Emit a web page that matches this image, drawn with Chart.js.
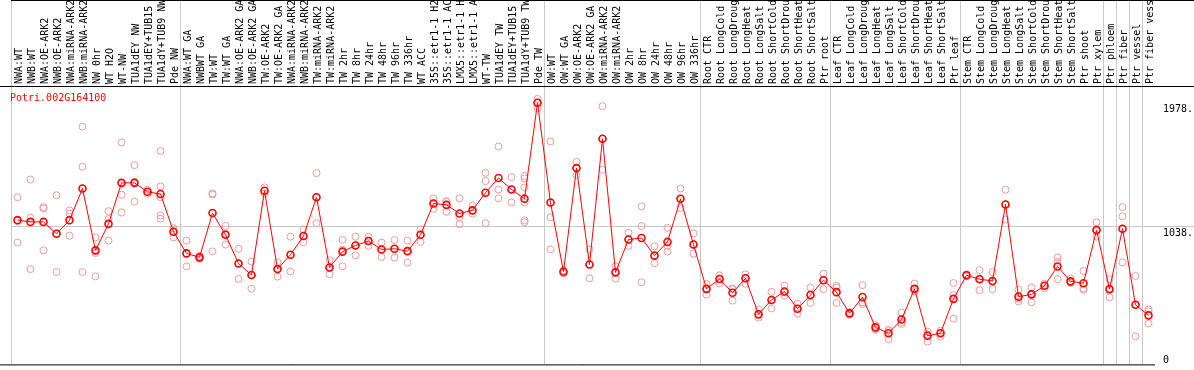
<!DOCTYPE html>
<html>
<head>
<meta charset="utf-8">
<script src="https://cdn.jsdelivr.net/npm/chart.js@4.4.1/dist/chart.umd.min.js"></script>
<style>
html, body { margin: 0; padding: 0; background: #fff; }
#caja { width: 1194px; height: 370px; }
</style>
</head>
<body>
<div id="caja"><canvas id="grafica" width="1194" height="370"></canvas></div>
<script>
var titulo = "Potri.002G164100";

var categorias = [
	"NWA:WT", "NWB:WT", "NWA:OE-ARK2", "NWB:OE-ARK2", "NWA:miRNA-ARK2", "NWB:miRNA-ARK2", "NW 0hr", "WT H2O", "WT-NW",
	"TUA1dEY NW", "TUA1dEY+TUB15 NW", "TUA1dY+TUB9 NW", "Pde NW",
	"NWA:WT GA", "NWBWT GA", "TW:WT", "TW:WT GA", "NWA:OE-ARK2 GA", "NWB:OE-ARK2 GA", "TW:OE-ARK2", "TW:OE-ARK2 GA",
	"NWA:miRNA-ARK2", "NWB:miRNA-ARK2", "TW:miRNA-ARK2", "TW:miRNA-ARK2", "TW 2hr", "TW 8hr", "TW 24hr", "TW 48hr",
	"TW 96hr", "TW 336hr", "WT ACC", "35S::etr1-1 H2O", "35S::etr1-1 ACC", "LMX5::etr1-1 H2O", "LMX5::etr1-1 ACC",
	"WT-TW", "TUA1dEY TW", "TUA1dEY+TUB15 TW", "TUA1dY+TUB9 TW", "Pde TW",
	"OW:WT", "OW:WT GA", "OW:OE-ARK2", "OW:OE-ARK2 GA", "OW:miRNA-ARK2", "OW:miRNA-ARK2", "OW 2hr", "OW 8hr",
	"OW 24hr", "OW 48hr", "OW 96hr", "OW 336hr",
	"Root CTR", "Root LongCold", "Root LongDrought", "Root LongHeat", "Root LongSalt", "Root ShortCold",
	"Root ShortDrought", "Root ShortHeat", "Root ShortSalt", "Ptr root",
	"Leaf CTR", "Leaf LongCold", "Leaf LongDrought", "Leaf LongHeat", "Leaf LongSalt", "Leaf ShortCold",
	"Leaf ShortDrought", "Leaf ShortHeat", "Leaf ShortSalt", "Ptr leaf",
	"Stem CTR", "Stem LongCold", "Stem LongDrought", "Stem LongHeat", "Stem LongSalt", "Stem ShortCold",
	"Stem ShortDrought", "Stem ShortHeat", "Stem ShortSalt", "Ptr shoot", "Ptr xylem",
	"Ptr phloem", "Ptr fiber", "Ptr vessel", "Ptr fiber vessel"
];

// media de cada muestra
var medias = [
	1088, 1075, 1075, 985, 1088, 1328, 859, 1060, 1371, 1371, 1303, 1286, 1000,
	836, 806, 1142, 977, 759, 672, 1311, 717, 826, 968, 1262, 729, 849, 896, 930, 866,
	871, 853, 977, 1214, 1204, 1139, 1162, 1296, 1408, 1321, 1251, 1978,
	1222, 697, 1483, 752, 1706, 692, 941, 953, 819, 923, 1250, 903,
	567, 642, 538, 647, 374, 483, 547, 416, 520, 632,
	542, 381, 505, 275, 230, 334, 567, 211, 230, 491,
	670, 640, 627, 1207, 508, 525, 590, 737, 624, 610, 1013,
	565, 1023, 446, 366
];

// replicas de cada muestra
var replicas = [
	[1262, 1083, 918], [1396, 1107, 717], [1187, 1177, 859], [1277, 985, 695], [1162, 1137, 970],
	[1797, 1493, 695], [957, 839, 662], [1156, 1097, 933], [1677, 1281, 1146], [1505, 1378, 1229],
	[1320, 1303, 1288], [1612, 1344, 1262, 1124, 1099], [1027, 1000, 957],
	[933, 836, 737], [818, 806, 794], [1291, 1283, 851], [1045, 985, 903], [871, 759, 642],
	[774, 672, 568], [1336, 1311, 1291], [769, 717, 660], [963, 826, 699], [1018, 968, 921],
	[1445, 1262, 1065], [784, 729, 677], [938, 864, 737], [963, 896, 821], [963, 930, 893],
	[918, 866, 809], [938, 871, 804], [933, 853, 766], [1018, 977, 923], [1253, 1214, 1174],
	[1231, 1229, 1152], [1253, 1112, 1057], [1199, 1162, 1137], [1447, 1385, 1065],
	[1647, 1321, 1253], [1415, 1321, 1222], [1423, 1405, 1336, 1222, 1087, 1072], [2008, 1978, 1938],
	[1685, 1110, 866], [707, 697, 684], [1530, 1483, 1430], [866, 752, 647], [1953, 1706, 1470],
	[739, 692, 645], [993, 941, 893], [1192, 1043, 617], [889, 819, 762], [1030, 893, 849],
	[1328, 1250, 1182], [988, 903, 834],
	[603, 567, 523], [670, 642, 610], [570, 565, 478], [677, 647, 605], [411, 366, 349],
	[545, 483, 418], [592, 540, 515], [454, 416, 379], [577, 520, 460], [682, 632, 565],
	[590, 577, 460], [391, 381, 371], [595, 465, 453], [292, 275, 259], [257, 247, 187],
	[386, 314, 301], [607, 567, 547], [242, 221, 167], [250, 235, 205], [611, 520, 341],
	[678, 670, 662], [709, 645, 557], [694, 622, 565], [1319, 1207, 1093], [560, 491, 471],
	[577, 532, 465], [607, 590, 572], [806, 771, 640], [645, 615, 612], [702, 570, 560],
	[1072, 1003, 963],
	[640, 560, 503], [1187, 1117, 767], [665, 446, 207], [411, 396, 304]
];

// limites de grupo (linea gris antes de esa muestra)
var limites = [0, 13, 41, 53, 63, 73, 84, 85, 86, 87, 88];
var marcasY = [0, 1038, 1978];
var etiquetasY = ["0", "1038.", "1978."];

var fuente = "'DejaVu Sans Mono', monospace";
var gris = "#c8c8c8";

function puntos_replicas(){
	var datos = [];
	for (var i = 0; i < replicas.length; i++) {
		for (var j = 0; j < replicas[i].length; j++) {
			datos.push({x: i, y: replicas[i][j]});
		}
	}
	return datos;
}

var marco = {
	id: "marco",
	afterDraw: function(chart){
		var c = chart.ctx;
		var area = chart.chartArea;
		var ey = chart.scales.y;
		c.save();
		c.strokeStyle = "#000";
		c.lineWidth = 1;
		c.beginPath();
		c.moveTo(area.left, 0.5); c.lineTo(chart.width, 0.5);
		c.moveTo(0, area.top - 0.5); c.lineTo(chart.width, area.top - 0.5);
		c.moveTo(0, area.bottom + 0.5); c.lineTo(area.right, area.bottom + 0.5);
		c.stroke();

		c.font = "10px " + fuente;
		c.fillStyle = "#ff0000";
		c.textAlign = "left";
		c.textBaseline = "alphabetic";
		c.fillText(titulo, area.left - 1, area.top + 14);

		c.fillStyle = "#000";
		for (var i = 0; i < marcasY.length; i++) {
			var py = ey.getPixelForValue(marcasY[i]);
			var base = marcasY[i] === 0 ? py - 1 : py + 9;
			c.fillText(etiquetasY[i], area.right + 8, base);
		}
		c.restore();
	}
};

var grafica = new Chart(document.getElementById("grafica").getContext("2d"), {
	data: {
		labels: categorias,
		datasets: [
			{
				type: "line",
				label: "media",
				data: medias,
				xAxisID: "x",
				yAxisID: "y",
				borderColor: "#ff0000",
				borderWidth: 1,
				pointStyle: "circle",
				pointRadius: 3.5,
				pointBorderWidth: 1.6,
				pointBorderColor: "#ff0000",
				pointBackgroundColor: "rgba(0,0,0,0)",
				tension: 0
			},
			{
				type: "scatter",
				label: "replicas",
				data: puntos_replicas(),
				xAxisID: "xr",
				yAxisID: "y",
				pointStyle: "circle",
				pointRadius: 3.5,
				pointBorderWidth: 1,
				pointBorderColor: "#ef9a9a",
				pointBackgroundColor: "rgba(0,0,0,0)",
				showLine: false
			}
		]
	},
	options: {
		responsive: false,
		animation: false,
		devicePixelRatio: 1,
		layout: {padding: {left: 11, right: 0, top: 0, bottom: 2}},
		plugins: {
			legend: {display: false},
			tooltip: {enabled: false},
			title: {display: false}
		},
		scales: {
			x: {
				type: "category",
				position: "top",
				offset: true,
				grid: {
					offset: true,
					drawTicks: true,
					tickLength: 87,
					color: function(ctx){ return limites.indexOf(ctx.index) >= 0 ? gris : "rgba(0,0,0,0)"; },
					lineWidth: 1
				},
				border: {display: false},
				ticks: {
					autoSkip: false,
					minRotation: 90,
					maxRotation: 90,
					padding: -84,
					labelOffset: 14,
					color: "#000",
					font: {family: fuente, size: 10}
				},
				afterFit: function(escala){ escala.height = 87; }
			},
			xr: {type: "linear", display: false, min: -0.5, max: 87.5},
			y: {
				position: "right",
				min: -6,
				max: 2098,
				afterBuildTicks: function(escala){
					escala.ticks = marcasY.map(function(v){ return {value: v}; });
				},
				grid: {
					drawTicks: true,
					tickLength: 39,
					color: function(ctx){ return ctx.tick && ctx.tick.value === 1038 ? gris : "rgba(0,0,0,0)"; }
				},
				border: {display: false},
				ticks: {display: false},
				afterFit: function(escala){ escala.width = 39; }
			}
		}
	},
	plugins: [marco]
});
</script>
</body>
</html>
